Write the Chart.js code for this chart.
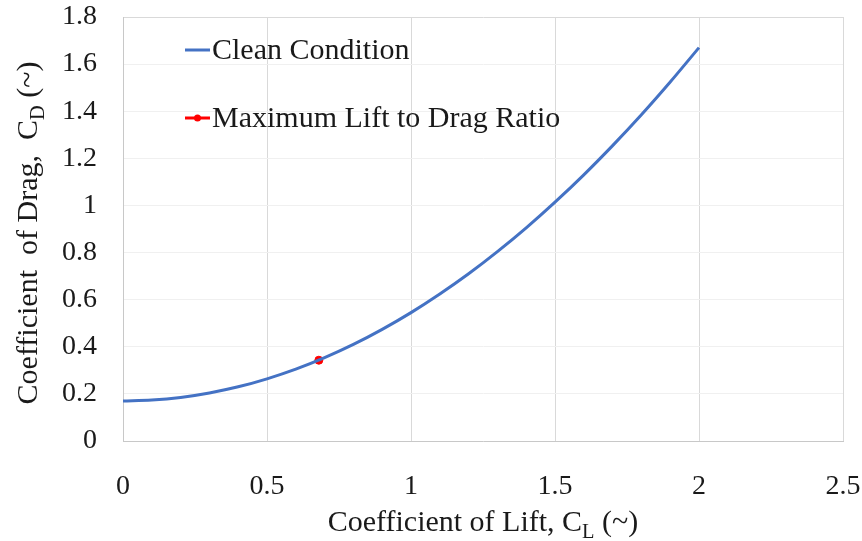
<!DOCTYPE html>
<html>
<head>
<meta charset="utf-8">
<title>Drag Polar</title>
<script src="https://cdn.jsdelivr.net/npm/chart.js@4.4.1/dist/chart.umd.min.js"></script>
<style>
    html, body { margin: 0; padding: 0; background: #ffffff; }
    #polarChart { display: block; }
</style>
</head>
<body>
<canvas id="polarChart" width="862" height="541"></canvas>
<script>
// Drag polar, clean configuration
const liftCoeff = [0, 0.1, 0.2, 0.3, 0.4, 0.5, 0.6, 0.7, 0.8, 0.9, 1.0,
                   1.1, 1.2, 1.3, 1.4, 1.5, 1.6, 1.7, 1.8, 1.9, 2.0];
const dragCoeff = [0.170, 0.174, 0.185, 0.204, 0.230, 0.264, 0.305, 0.354, 0.410, 0.474, 0.545,
                   0.624, 0.710, 0.804, 0.905, 1.014, 1.130, 1.254, 1.385, 1.524, 1.670];

// Point of best L/D
const maxLdLift = [0.68];
const maxLdDrag = [0.343];

const xTicks = [0, 0.5, 1, 1.5, 2, 2.5];
const yTicks = [0, 0.2, 0.4, 0.6, 0.8, 1, 1.2, 1.4, 1.6, 1.8];

const SERIF = "'Liberation Serif', 'Times New Roman', serif";
const INK = '#1a1a1a';

// Draws a run of text pieces, some of them as subscripts
function drawRich(ctx, parts, size, x, y, align) {
    const widths = parts.map(p => {
        ctx.font = (p.sub ? size * 0.68 : size) + 'px ' + SERIF;
        return ctx.measureText(p.t).width;
    });
    const total = widths.reduce((a, b) => a + b, 0);
    let cx = align === 'center' ? x - total / 2 : x;
    parts.forEach((p, i) => {
        ctx.font = (p.sub ? size * 0.68 : size) + 'px ' + SERIF;
        ctx.fillText(p.t, cx, p.sub ? y + size * 0.22 : y);
        cx += widths[i];
    });
}

const axisTitles = {
    id: 'axisTitles',
    afterDraw(chart) {
        const { ctx, chartArea } = chart;
        ctx.save();
        ctx.fillStyle = INK;
        ctx.textBaseline = 'alphabetic';
        ctx.textAlign = 'left';
        drawRich(ctx, [
            { t: 'Coefficient of Lift, C' },
            { t: 'L', sub: true },
            { t: ' (~)' }
        ], 30, (chartArea.left + chartArea.right) / 2, 531, 'center');

        ctx.translate(37, (chartArea.top + chartArea.bottom) / 2 + 4);
        ctx.rotate(-Math.PI / 2);
        drawRich(ctx, [
            { t: 'Coefficient  of Drag,  C' },
            { t: 'D', sub: true },
            { t: ' (~)' }
        ], 30, 0, 0, 'center');
        ctx.restore();
    }
};

// Legend sitting inside the plot, top left
const insideLegend = {
    id: 'insideLegend',
    afterDraw(chart) {
        const { ctx } = chart;
        const rows = [50, 118];
        ctx.save();
        chart.data.datasets.forEach((ds, i) => {
            const y = rows[i];
            ctx.strokeStyle = ds.borderColor;
            ctx.lineWidth = 3;
            ctx.beginPath();
            ctx.moveTo(185, y);
            ctx.lineTo(210, y);
            ctx.stroke();
            if (ds.legendDot) {
                ctx.fillStyle = ds.pointBackgroundColor;
                ctx.beginPath();
                ctx.arc(197.5, y, 3.5, 0, Math.PI * 2);
                ctx.fill();
            }
            ctx.fillStyle = INK;
            ctx.font = '30px ' + SERIF;
            ctx.textBaseline = 'middle';
            ctx.textAlign = 'left';
            ctx.fillText(ds.label, 212, y + 1);
        });
        ctx.restore();
    }
};

const fmt = v => String(Number(v.toFixed(1)));

new Chart(document.getElementById('polarChart'), {
    type: 'line',
    data: {
        datasets: [
            {
                label: 'Clean Condition',
                data: liftCoeff.map((x, i) => ({ x: x, y: dragCoeff[i] })),
                borderColor: '#4472C4',
                borderWidth: 3,
                pointRadius: 0,
                cubicInterpolationMode: 'monotone',
                fill: false
            },
            {
                label: 'Maximum Lift to Drag Ratio',
                data: maxLdLift.map((x, i) => ({ x: x, y: maxLdDrag[i] })),
                borderColor: '#FF0000',
                pointBackgroundColor: '#FF0000',
                pointBorderColor: '#FF0000',
                pointRadius: 4,
                showLine: false,
                legendDot: true
            }
        ]
    },
    options: {
        responsive: false,
        animation: false,
        layout: { padding: 0 },
        plugins: {
            legend: { display: false },
            tooltip: { enabled: false }
        },
        scales: {
            x: {
                type: 'linear',
                min: 0,
                max: 2.5,
                afterBuildTicks: s => { s.ticks = xTicks.map(v => ({ value: v })); },
                afterFit: s => {
                    s.height = 100;
                    s.paddingLeft = 0;
                    s.paddingRight = 19;
                },
                ticks: {
                    padding: 29,
                    color: INK,
                    font: { family: SERIF, size: 28 },
                    maxRotation: 0,
                    callback: fmt
                },
                grid: { color: '#d9d9d9', lineWidth: 1, drawTicks: false },
                border: { color: '#c8c8c8', width: 1 }
            },
            y: {
                min: 0,
                max: 1.8,
                afterBuildTicks: s => { s.ticks = yTicks.map(v => ({ value: v })); },
                afterFit: s => {
                    s.width = 123;
                    s.paddingTop = 17;
                    s.paddingBottom = 0;
                },
                ticks: {
                    padding: 26,
                    color: INK,
                    font: { family: SERIF, size: 28 },
                    callback: fmt
                },
                grid: {
                    color: c => (c.tick && c.tick.value === 1.8) ? '#d9d9d9' : '#f0f0f0',
                    lineWidth: 1,
                    drawTicks: false
                },
                border: { color: '#c8c8c8', width: 1 }
            }
        }
    },
    plugins: [axisTitles, insideLegend]
});
</script>
</body>
</html>
